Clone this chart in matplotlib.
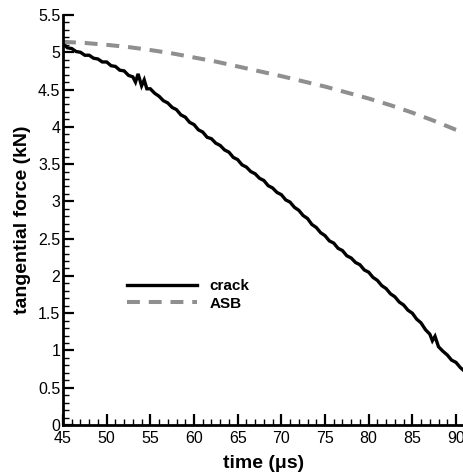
import matplotlib
matplotlib.use("Agg")
import matplotlib.pyplot as plt
from matplotlib.ticker import MultipleLocator

plt.rcParams['font.family'] = ['Liberation Sans', 'DejaVu Sans']

# crack curve (time in us, tangential force in kN)
crack_t = [45, 45.5, 46, 46.5, 47, 47.5, 48, 48.5, 49, 49.5, 50, 50.5, 51, 51.5, 52, 52.5,
           53, 53.3, 53.6, 54, 54.3, 54.6, 55, 55.5, 56, 56.5, 57, 57.5, 58, 58.5, 59, 59.5,
           60, 60.5, 61, 61.5, 62, 62.5, 63, 63.5, 64, 64.5, 65, 65.5, 66, 66.5, 67, 67.5,
           68, 68.5, 69, 69.5, 70, 70.5, 71, 71.5, 72, 72.5, 73, 73.5, 74, 74.5, 75, 75.5,
           76, 76.5, 77, 77.5, 78, 78.5, 79, 79.5, 80, 80.5, 81, 81.5, 82, 82.5, 83, 83.5,
           84, 84.5, 85, 85.5, 86, 86.5, 87, 87.3, 87.6, 88, 88.5, 89, 89.5, 90, 90.5, 90.9]
crack_f = [5.12, 5.06, 5.05, 5.01, 5.00, 4.96, 4.96, 4.92, 4.91, 4.87, 4.87, 4.82, 4.81, 4.76, 4.75, 4.69,
           4.67, 4.60, 4.71, 4.55, 4.63, 4.51, 4.51, 4.45, 4.41, 4.35, 4.32, 4.26, 4.23, 4.16, 4.13, 4.06,
           4.03, 3.96, 3.93, 3.86, 3.84, 3.78, 3.75, 3.69, 3.66, 3.59, 3.56, 3.49, 3.46, 3.40, 3.37, 3.31,
           3.28, 3.21, 3.18, 3.12, 3.09, 3.02, 2.99, 2.92, 2.88, 2.81, 2.77, 2.69, 2.65, 2.58, 2.54, 2.47,
           2.44, 2.37, 2.34, 2.27, 2.24, 2.18, 2.15, 2.08, 2.05, 1.98, 1.94, 1.87, 1.83, 1.76, 1.72, 1.65,
           1.61, 1.54, 1.50, 1.42, 1.37, 1.28, 1.22, 1.13, 1.19, 1.05, 0.99, 0.94, 0.87, 0.84, 0.77, 0.73]

# ASB curve
asb_t = [45, 47.5, 50, 52.5, 55, 57.5, 60, 62.5, 65, 67.5, 70, 72.5, 75, 77.5, 80, 82.5, 85, 87.5, 90, 90.9]
asb_f = [5.14, 5.125, 5.10, 5.07, 5.03, 4.985, 4.93, 4.875, 4.81, 4.745, 4.68, 4.61, 4.54, 4.46, 4.38, 4.29,
         4.19, 4.08, 3.96, 3.92]

x_ticks = [45, 50, 55, 60, 65, 70, 75, 80, 85, 90]
y_ticks = [0, 0.5, 1, 1.5, 2, 2.5, 3, 3.5, 4, 4.5, 5, 5.5]
y_ticklabels = ['0', '0.5', '1', '1.5', '2', '2.5', '3', '3.5', '4', '4.5', '5', '5.5']

fig = plt.figure(figsize=(4.64, 4.75), dpi=100)
ax = fig.add_axes([63 / 464, 50 / 475, 1 - 63 / 464, 410 / 475])

ax.plot(crack_t, crack_f, color='black', lw=2.4, label='crack', solid_joinstyle='miter')
ax.plot(asb_t, asb_f, color='#8f8f8f', lw=2.9, dashes=(3.2, 2.2), label='ASB')

ax.set_xlim(45, 90.92)
ax.set_ylim(0, 5.5)
ax.set_xticks(x_ticks)
ax.set_xticklabels([str(v) for v in x_ticks])
ax.set_yticks(y_ticks)
ax.set_yticklabels(y_ticklabels)
ax.xaxis.set_minor_locator(MultipleLocator(1))
ax.yaxis.set_minor_locator(MultipleLocator(0.1))

for s in ['top', 'right']:
    ax.spines[s].set_visible(False)
for s in ['left', 'bottom']:
    ax.spines[s].set_linewidth(2.0)

ax.tick_params(which='major', direction='in', length=8, width=1.6, labelsize=11.5)
ax.tick_params(axis='x', which='major', pad=4)
ax.tick_params(axis='y', which='major', pad=2)
ax.tick_params(which='minor', direction='in', length=4, width=1.0)

ax.set_xlabel('time (\u03bcs)', fontsize=14, fontweight='bold', labelpad=7)
ax.set_ylabel('tangential force (kN)', fontsize=14, fontweight='bold', labelpad=5)

ax.legend(loc='upper left', bbox_to_anchor=(0.14, 0.375), frameon=False,
          prop={'weight': 'bold', 'size': 11}, handlelength=4.6, handletextpad=0.8,
          labelspacing=0.25, borderpad=0)

fig.savefig('out.png', dpi=100)
